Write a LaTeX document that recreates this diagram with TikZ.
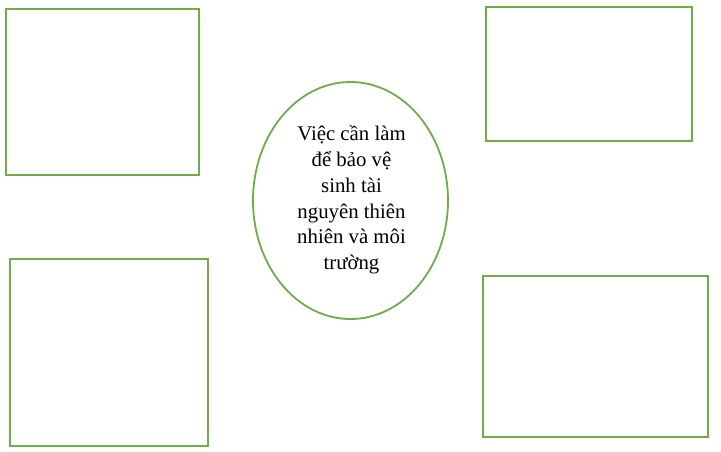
\documentclass[tikz,border=0pt]{standalone}
\usepackage{fontspec}
\setmainfont{Liberation Serif}
\definecolor{boxgreen}{RGB}{112,173,71}
\tikzset{
  framebox/.style={draw=boxgreen, line width=1.8pt},
}
\begin{document}
\begin{tikzpicture}[x=1pt,y=-1pt]
\useasboundingbox[fill=white] (0,0) rectangle (721,451);
\draw[framebox] (6,9) rectangle (199,175);
\draw[framebox] (486,7) rectangle (692,141);
\draw[framebox] (10,259) rectangle (208,446);
\draw[framebox] (483,276) rectangle (708,437);
\draw[framebox] (350.5,200.5) ellipse [x radius=97.5, y radius=118.5];
\node[align=center, font=\fontsize{20.8}{25.8}\selectfont, inner sep=0pt] (center) at (351.5,200)
 {Việc cần làm\\để bảo vệ\\sinh tài\\nguyên thiên\\nhiên và môi\\trường};
\end{tikzpicture}
\end{document}
